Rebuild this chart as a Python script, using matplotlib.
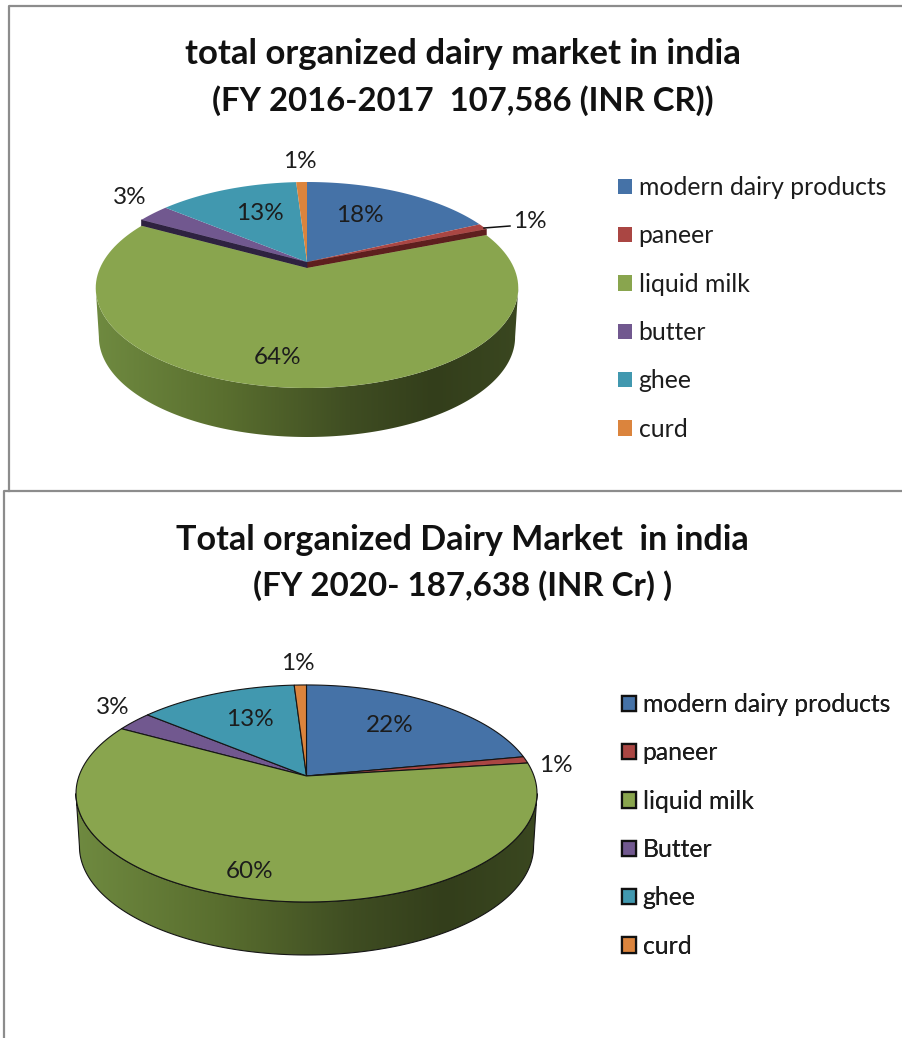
import matplotlib
matplotlib.use("Agg")  # headless backend
import matplotlib.pyplot as plt
from matplotlib.colors import LinearSegmentedColormap
from matplotlib.lines import Line2D
from matplotlib.patches import Patch, Polygon
import numpy as np

plt.rcParams['font.family'] = ['Lato', 'DejaVu Sans']

# data
labels_top = ["modern dairy products", "paneer", "liquid milk", "butter", "ghee", "curd"]
labels_bottom = ["modern dairy products", "paneer", "liquid milk", "Butter", "ghee", "curd"]
values_top = [18, 1, 64, 3, 13, 1]
values_bottom = [22, 1, 60, 3, 13, 1]
colors = ["#4572a7", "#aa4643", "#89a54e", "#71588f", "#4198af", "#db843d"]
dark_colors = ["#2a4464", "#5e1f1e", "#526230", "#2e2240", "#27606f", "#844f25"]

title_top = ["total organized dairy market in india", "(FY 2016-2017  107,586 (INR CR))"]
title_bottom = ["Total organized Dairy Market  in india", "(FY 2020- 187,638 (INR Cr) )"]

TEXT = "#1c1c1c"
wall_cmap = LinearSegmentedColormap.from_list(
    "wall", [(0, "#6f8a40"), (0.3, "#5a6f2f"), (0.6, "#3f4d22"), (0.8, "#333e1b"), (1, "#3a4720")])

fig = plt.figure(figsize=(9.02, 10.38), dpi=100)
ax = fig.add_axes([0, 0, 1, 1])
ax.axis("off")


def project(theta, cx, cy, a, b, k):
    """Tilted circle to pixel position, theta clockwise from 12 o'clock."""
    den = 1 + k * np.cos(theta)
    return cx + b * np.sin(theta) / den, cy - a * np.cos(theta) / den


def wedge(start, end, cx, cy, a, b, k, color, dy=0, **kw):
    th = np.linspace(start, end, 120)
    x, y = project(th, cx, cy, a, b, k)
    pts = np.column_stack([np.r_[cx, x], np.r_[cy, y] + dy])
    ax.add_patch(Polygon(pts, closed=True, facecolor=color, **kw))


def draw_pie(values, cx, cy, a, b, k, depth, drop=0, edge=None):
    lw = 0.8 if edge else 0
    ec = edge if edge else "none"
    edges = 2 * np.pi * np.r_[0, np.cumsum(values)] / sum(values)

    # side wall, front half only
    t0 = np.arccos(-k)
    th = np.linspace(t0, 2 * np.pi - t0, 200)
    x, y = project(th, cx, cy, a, b, k)
    y = y + drop
    xl = cx + (x - cx) * 0.985
    pts = np.column_stack([np.r_[x, xl[::-1]], np.r_[y, y[::-1] + depth]])
    poly = Polygon(pts, closed=True, facecolor="none", edgecolor=ec, lw=lw, zorder=3)
    ax.add_patch(poly)
    grad = np.linspace(0, 1, 256).reshape(1, -1)
    im = ax.imshow(grad, cmap=wall_cmap, aspect="auto", zorder=2,
                   extent=[x.min(), x.max(), y.max() + depth, y.min()])
    im.set_clip_path(poly)

    # cut faces of the big slice, seen where it is lowered
    if drop:
        for i, t in ((1, edges[2]), (3, edges[3])):
            tx, ty = project(t, cx, cy, a, b, k)
            quad = [(cx, cy), (tx, ty), (tx, ty + drop), (cx, cy + drop)]
            ax.add_patch(Polygon(quad, closed=True, facecolor=dark_colors[i],
                                 edgecolor=dark_colors[i], lw=0.5, zorder=3))
    for i, v in enumerate(values):
        dy = drop if i == 2 else 0
        wedge(edges[i], edges[i + 1], cx, cy, a, b, k, colors[i], dy=dy,
              edgecolor=ec, lw=lw, zorder=4 if i != 2 else 5)


def draw_legend(labels, x, y, fs, spacing, edge=None):
    handles = [Patch(facecolor=c, edgecolor=edge if edge else "none", lw=1.6 if edge else 0)
               for c in colors]
    leg = ax.legend(handles, labels, loc="upper left", bbox_to_anchor=(x, y),
                    bbox_transform=ax.transData, frameon=False, fontsize=fs,
                    handlelength=0.57, handleheight=0.57, handletextpad=0.26,
                    labelspacing=spacing, borderpad=0, borderaxespad=0,
                    labelcolor=TEXT)
    ax.add_artist(leg)


# frames of the two pasted charts
ax.add_line(Line2D([902, 9, 9], [6, 6, 491], color="#8c8c8c", lw=1.6, zorder=1))
ax.add_line(Line2D([902, 4, 4], [491, 491, 1038], color="#8c8c8c", lw=1.6, zorder=1))

draw_pie(values_top, 307, 262, 96, 207, 0.2, 49, drop=6)
draw_pie(values_bottom, 306.5, 776, 105.7, 227.5, 0.161, 53, edge="#151515")

# leader line for the small paneer slice
ax.add_line(Line2D([484, 510], [228, 226], color="#111111", lw=1.1, zorder=6))

# titles
for txt, y, fs in ((title_top[0], 54, 25), (title_top[1], 101, 23.7),
                   (title_bottom[0], 540, 24.6), (title_bottom[1], 586, 23.9)):
    ax.text(462.5, y, txt, ha="center", va="center", fontsize=fs, fontweight="bold",
            color="#111111")

# percent labels
pos_top = [(300, 162), (530, 222), (278, 358), (130, 198), (260, 214), (360, 216)]
pos_top = [pos_top[5], pos_top[1], pos_top[2], pos_top[3], pos_top[4], pos_top[0]]
pos_bottom = [(390, 725), (556, 765), (250, 872), (113, 707), (250, 720), (298, 664)]
for vals, pos in ((values_top, pos_top), (values_bottom, pos_bottom)):
    for v, (px, py) in zip(vals, pos):
        ax.text(px, py, f"{v}%", ha="center", va="center", fontsize=17.5, color=TEXT, zorder=7)

draw_legend(labels_top, 618, 176, 17.8, 1.025)
draw_legend(labels_bottom, 622, 693, 17.8, 1.025, edge="#111111")

ax.set_xlim(0, 902)
ax.set_ylim(1038, 0)
fig.savefig("out.png", dpi=100, facecolor="white")
